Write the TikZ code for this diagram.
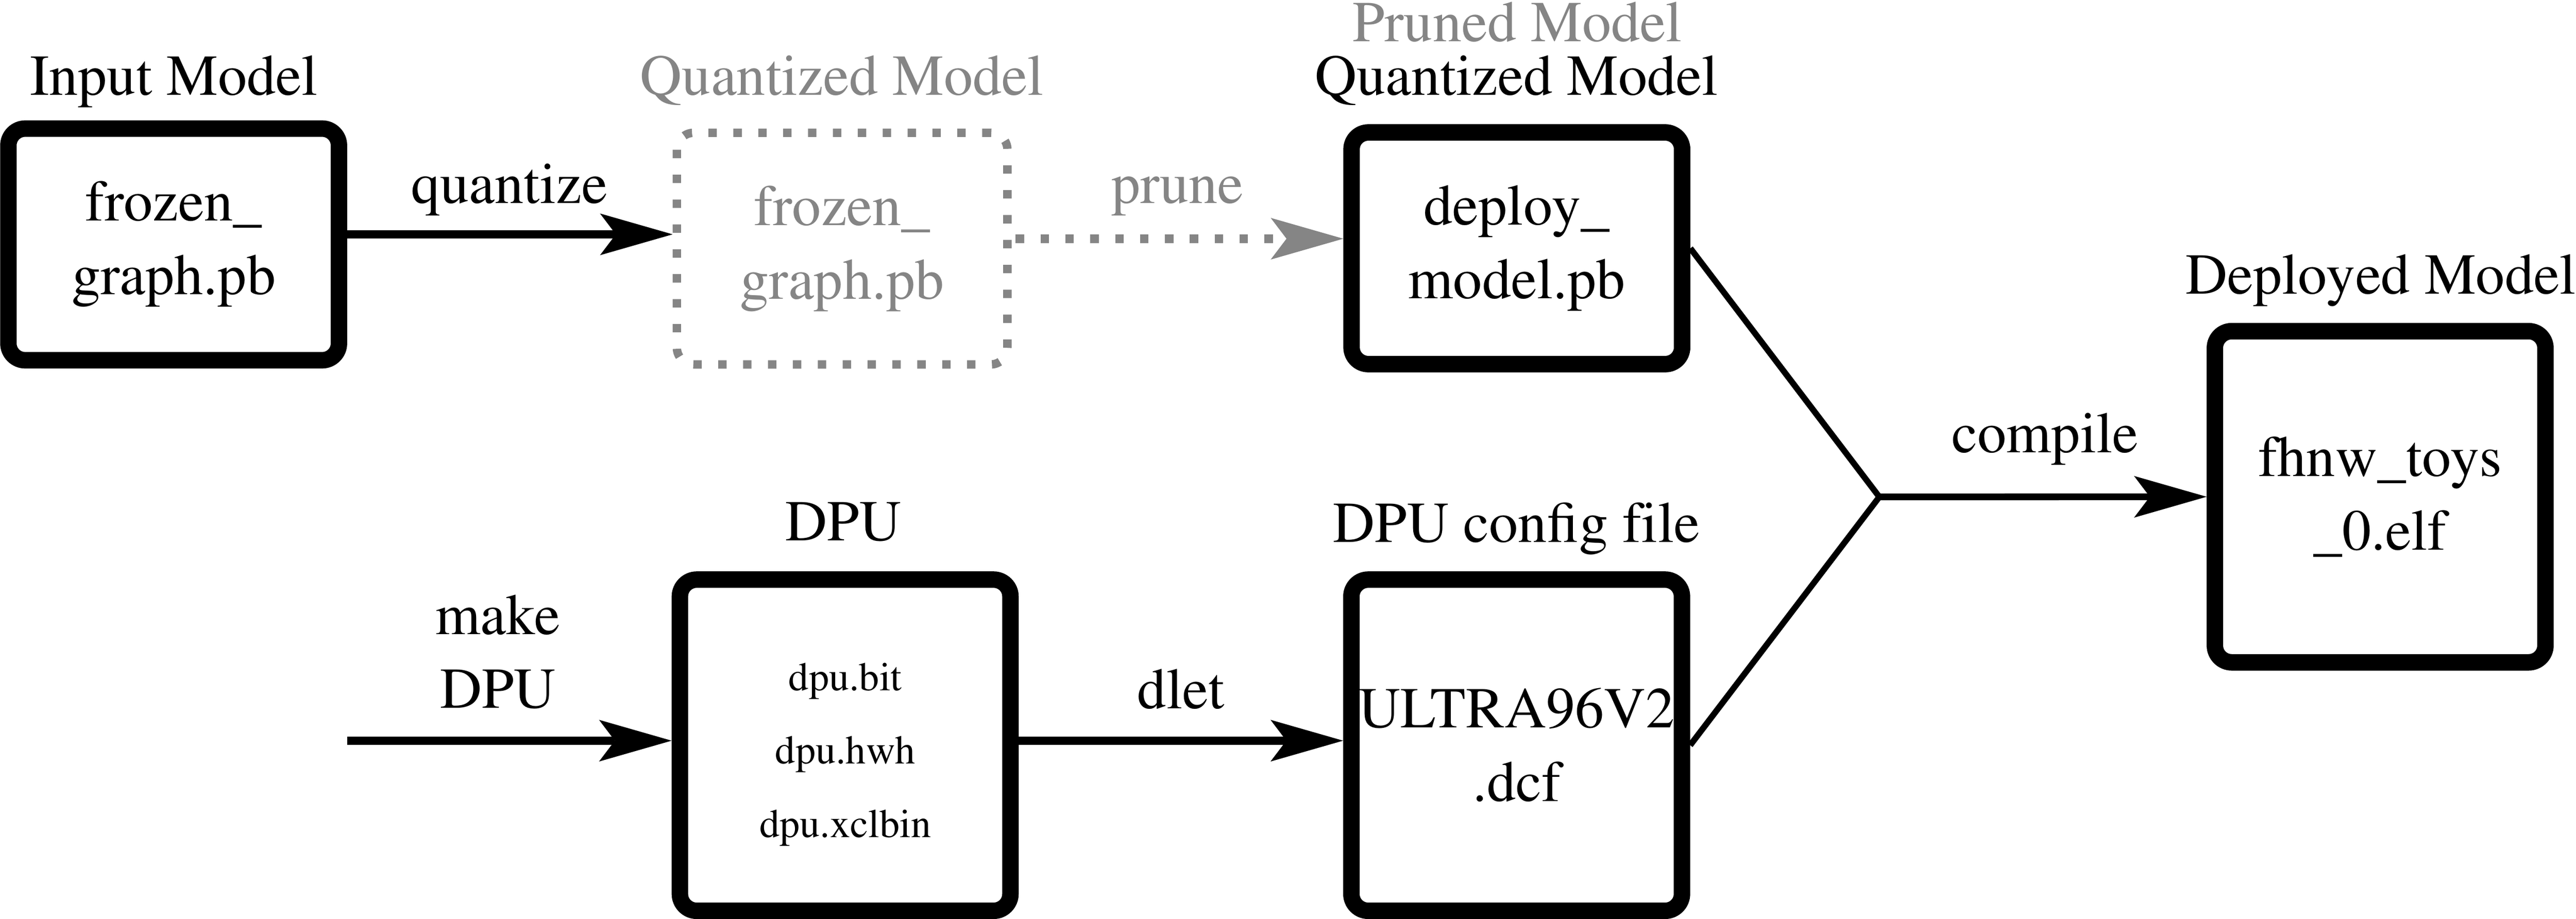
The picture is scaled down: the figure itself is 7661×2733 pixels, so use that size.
\documentclass[tikz,border=0pt]{standalone}
\usepackage[T1]{fontenc}
\usepackage{times}
\usetikzlibrary{arrows.meta,calc}
\definecolor{ghost}{rgb}{0.52,0.52,0.52}
\newcommand\bigfont{\fontsize{24.48pt}{31.16pt}\selectfont}
\newcommand\smallfont{\fontsize{17.07pt}{31.16pt}\selectfont}
\begin{document}
\begin{tikzpicture}[x=0.05mm, y=-0.05mm,
  box/.style={draw, line width=2.45mm, rounded corners=2.5mm, minimum width=49.15mm,
    inner sep=0pt, align=center, font=\bigfont},
  toprow/.style={minimum height=34.45mm},
  botrow/.style={minimum height=49.25mm},
  ghostbox/.style={draw=ghost, text=ghost, line width=1.25mm, dash pattern=on 1.25mm off 2.45mm,
    rounded corners=2.5mm, minimum width=49.15mm, minimum height=34.45mm,
    inner sep=0pt, align=center, font=\bigfont},
  lab/.style={font=\bigfont, inner sep=0pt, anchor=base},
  tipshape/.style={-{Stealth[length=10.8mm, width=6.2mm, inset=2.35mm, line width=0pt]}},
  flow/.style={line width=1.25mm, tipshape},
  ghostflow/.style={draw=ghost, line width=1.25mm, dash pattern=on 1.25mm off 2.45mm, dash phase=-0.6mm,
    -{Stealth[length=10.8mm, width=6.2mm, inset=2.35mm, line width=0pt, fill=ghost]}},
  joinline/.style={line width=0.9mm},
  compileflow/.style={line width=1mm, tipshape}
]
\useasboundingbox (0,0) rectangle (7661,2733);

% boxes
\node[box, toprow] (in) at (516.5,727) {frozen\_\\graph.pb};
\node[ghostbox] (qg) at (2504.5,739.5) {frozen\_\\graph.pb};
\node[box, toprow] (dep) at (4511,738.5) {deploy\_\\model.pb};
\node[box, botrow] (dpu) at (2513.5,2216.5) {};
\node[box, botrow] (cfg) at (4510.5,2216.5) {ULTRA96V2\\.dcf};
\node[box, botrow] (out) at (7078.5,1477.5) {fhnw\_toys\\\_0.elf};
\node[font=\smallfont, align=center, inner sep=0pt] (dputxt) at (2514,2244.5) {dpu.bit\\dpu.hwh\\dpu.xclbin};

% titles
\node[lab] (lin) at (517,283) {Input Model};
\node[lab, text=ghost] (lqg) at (2504,283) {Quantized Model};
\node[lab, text=ghost] (lpr) at (4512,123) {Pruned Model};
\node[lab] (lqd) at (4510,283) {Quantized Model};
\node[lab] (lout) at (7080,874) {Deployed Model};
\node[lab] (ldpu) at (2508,1608) {DPU};
\node[lab] (lcfg) at (4510,1612) {DPU con{}fig f{}ile};

% connector labels
\node[lab] (tq) at (1515,604) {quantize};
\node[lab, text=ghost] (tp) at (3502,605) {prune};
\node[font=\bigfont, align=center, inner sep=0pt] (tm) at (1481,1939) {make\\DPU};
\node[lab] (td) at (3512,2108) {dlet};
\node[lab] (tc) at (6082,1346) {compile};

% helper coordinates
\coordinate (yq) at (0,697);
\coordinate (yp) at (0,710);
\coordinate (yb) at (0,2203);
\coordinate (mk) at (1033,2203);
\coordinate (J) at (5589,1478);

% connectors
\draw[flow] (in.east |- yq) -- (qg.west |- yq);
\draw[ghostflow] (qg.east |- yp) -- (dep.west |- yp);
\draw[flow] (mk) -- (dpu.west |- yb);
\draw[flow] (dpu.east |- yb) -- (cfg.west |- yb);
\draw[joinline] (dep.east) -- (J);
\draw[joinline] (cfg.east) -- (J);
\draw[compileflow] (J) -- (out.west);
\end{tikzpicture}
\end{document}
